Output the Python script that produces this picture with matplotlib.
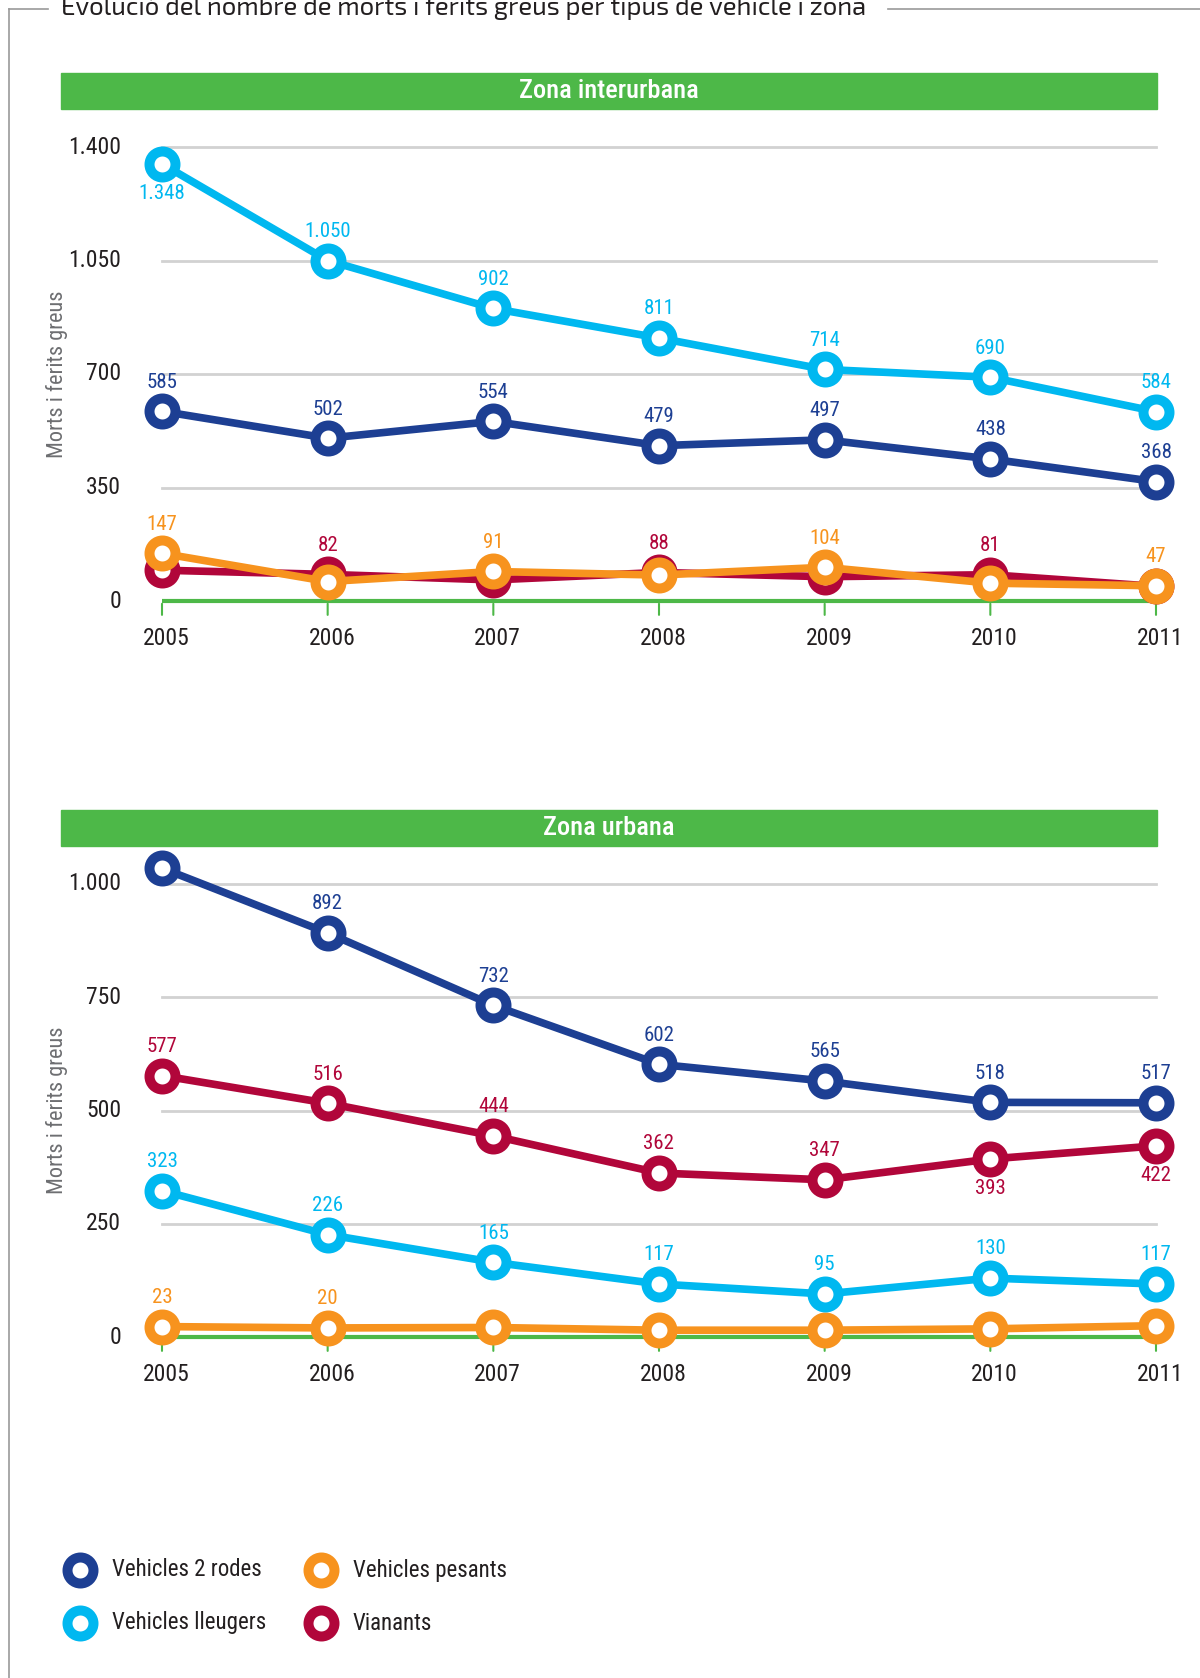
import matplotlib.pyplot as plt
from matplotlib.patches import Rectangle
from matplotlib.lines import Line2D

plt.rcParams['font.family'] = ['Roboto Condensed', 'Liberation Sans Narrow', 'DejaVu Sans']

years = [2005, 2006, 2007, 2008, 2009, 2010, 2011]

# Zona interurbana
inter_2rodes = [585, 502, 554, 479, 497, 438, 368]
inter_lleugers = [1348, 1050, 902, 811, 714, 690, 584]
inter_pesants = [147, 60, 91, 80, 104, 55, 47]
inter_vianants = [95, 82, 65, 88, 75, 81, 45]

# Zona urbana
urb_2rodes = [1035, 892, 732, 602, 565, 518, 517]
urb_lleugers = [323, 226, 165, 117, 95, 130, 117]
urb_pesants = [23, 20, 21, 15, 15, 18, 25]
urb_vianants = [577, 516, 444, 362, 347, 393, 422]

# which points get a value label: 'a' above, 'b' below, None no label
inter_lab = {
    '2rodes': ['a'] * 7,
    'lleugers': ['b', 'a', 'a', 'a', 'a', 'a', 'a'],
    'pesants': ['a', None, 'a', None, 'a', None, 'a'],
    'vianants': [None, 'a', None, 'a', None, 'a', None],
}
urb_lab = {
    '2rodes': ['b', 'a', 'a', 'a', 'a', 'a', 'a'],
    'lleugers': ['a'] * 7,
    'pesants': ['a', 'a', None, None, None, None, None],
    'vianants': ['a', 'a', 'a', 'a', 'a', 'b', 'b'],
}

C_BLUE = '#1d3f93'
C_CYAN = '#00b8f0'
C_ORANGE = '#f7931e'
C_RED = '#b1063a'
C_GREEN = '#4db848'
C_GRID = '#d2d2d2'
C_TEXT = '#231f20'

MS, MEW, LW = 18.7, 7.2, 5.5

W, H = 1200, 1678
fig = plt.figure(figsize=(W / 100, H / 100), dpi=100)


def fy(px):
    return 1 - px / H


def fmt(v):
    return f'{v:,}'.replace(',', '.')


def draw_panel(ax, series, labels, ymax, step):
    ax.set_xlim(2005, 2011)
    ax.set_ylim(0, ymax)
    for s in ['top', 'right', 'left', 'bottom']:
        ax.spines[s].set_visible(False)
    ax.set_xticks([])
    ax.set_yticks([])
    for v in range(step, ymax + 1, step):
        ax.plot([2005, 2011], [v, v], color=C_GRID, lw=2, zorder=1, clip_on=False)
    for v in range(0, ymax + 1, step):
        ax.text(-0.041, v, fmt(v), transform=ax.get_yaxis_transform(),
                ha='right', va='center', fontsize=17, color=C_TEXT)
    # green baseline with ticks
    ax.plot([2005, 2011], [0, 0], color=C_GREEN, lw=3, zorder=2, clip_on=False,
            solid_capstyle='butt')
    for y in years:
        ax.annotate('', xy=(y, 0), xytext=(0, -12), textcoords='offset points',
                    arrowprops=dict(arrowstyle='-', color=C_GREEN, lw=1.5))
        ax.annotate(str(y), xy=(y, 0), xytext=(3, -27), textcoords='offset points',
                    ha='center', va='center', fontsize=17, color=C_TEXT)
    ax.text(-0.106, 0.5, 'Morts i ferits greus', transform=ax.transAxes, rotation=90,
            ha='center', va='center', fontsize=16, color='#6d6e71')
    for key, vals, color, z in series:
        ax.plot(years, vals, color=color, lw=LW, marker='o', ms=MS, mew=MEW,
                mfc='white', mec=color, zorder=z, clip_on=False)
        for y, v, pos in zip(years, vals, labels[key]):
            if pos is None:
                continue
            off = 21 if pos == 'a' else -21
            ax.annotate(fmt(v), xy=(y, v), xytext=(0, off), textcoords='offset points',
                        ha='center', va='center', fontsize=15, color=color, zorder=10)


def header(top_px, text):
    fig.patches.append(Rectangle((61 / W, fy(top_px + 36)), 1096 / W, 36 / H,
                                 transform=fig.transFigure, color=C_GREEN, zorder=0))
    fig.text((61 + 1157) / 2 / W, fy(top_px + 18), text, ha='center', va='center',
             color='white', fontsize=19, fontweight='medium')


ax1 = fig.add_axes([162 / W, fy(601), 994 / W, 454 / H])
draw_panel(ax1, [('vianants', inter_vianants, C_RED, 3),
                 ('pesants', inter_pesants, C_ORANGE, 4),
                 ('2rodes', inter_2rodes, C_BLUE, 5),
                 ('lleugers', inter_lleugers, C_CYAN, 6)],
           inter_lab, 1400, 350)
header(73, 'Zona interurbana')

ax2 = fig.add_axes([162 / W, fy(1337), 994 / W, 453 / H])
draw_panel(ax2, [('pesants', urb_pesants, C_ORANGE, 3),
                 ('lleugers', urb_lleugers, C_CYAN, 4),
                 ('vianants', urb_vianants, C_RED, 5),
                 ('2rodes', urb_2rodes, C_BLUE, 6)],
           urb_lab, 1000, 250)
header(810, 'Zona urbana')

# frame and title
fig.add_artist(Line2D([9 / W, 9 / W], [fy(9), 0], color='#999999', lw=1.2))
fig.add_artist(Line2D([9 / W, 48 / W], [fy(9), fy(9)], color='#999999', lw=1.2))
fig.add_artist(Line2D([888 / W, 1], [fy(9), fy(9)], color='#999999', lw=1.2))
fig.text(61 / W, fy(15), 'Evolució del nombre de morts i ferits greus per tipus de vehicle i zona',
         ha='left', va='baseline', fontsize=18.5, color=C_TEXT,
         family=['Exo 2', 'DejaVu Sans'])

# legend
legend_items = [('Vehicles 2 rodes', C_BLUE, 80, 1570),
                ('Vehicles pesants', C_ORANGE, 321, 1570),
                ('Vehicles lleugers', C_CYAN, 80, 1623),
                ('Vianants', C_RED, 321, 1623)]
for name, color, x, y in legend_items:
    fig.add_artist(Line2D([x / W], [fy(y)], marker='o', ms=MS, mew=MEW,
                          mfc='white', mec=color, lw=0))
    fig.text((x + 32) / W, fy(y), name, ha='left', va='center', fontsize=16.5, color=C_TEXT)

fig.savefig('out.png', dpi=100)
